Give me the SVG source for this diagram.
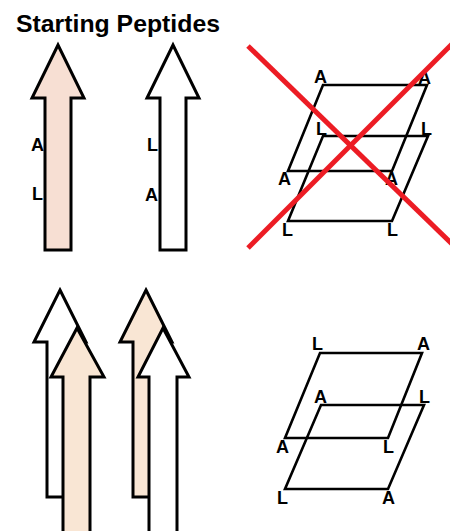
<svg xmlns="http://www.w3.org/2000/svg" width="450" height="531" viewBox="0 0 450 531">
<style>
.arrow{stroke:#000;stroke-width:3;stroke-linejoin:miter}
.pink{fill:#f7dfd3}
.peach{fill:#f9e6d4}
.white{fill:#fff}
.para{fill:none;stroke:#000;stroke-width:2.6;stroke-linejoin:miter}
.lbl{font-family:"Liberation Sans",Arial,sans-serif;font-weight:bold;font-size:18px;fill:#000}
.title{font-family:"Liberation Sans",Arial,sans-serif;font-weight:bold;font-size:24px;fill:#000}
.cross{stroke:#ec1c24;stroke-width:5;stroke-linecap:butt}
</style>
<rect width="450" height="531" fill="#fff"/>
<text class="title" x="16" y="32" textLength="204" lengthAdjust="spacingAndGlyphs">Starting Peptides</text>

<g id="arrow-top-pink">
<path class="arrow pink" d="M58,45 L84,98 L71,98 L71,250 L45,250 L45,98 L32,98 Z"/>
<text class="lbl" x="31" y="151">A</text>
<text class="lbl" x="32" y="200">L</text>
</g>
<g id="arrow-top-white">
<path class="arrow white" d="M173,45 L199,98 L186,98 L186,250 L160,250 L160,98 L147,98 Z"/>
<text class="lbl" x="147" y="151">L</text>
<text class="lbl" x="145" y="201">A</text>
</g>

<g id="sheet-top-crossed">
<path class="para" d="M323,85 L427,85 L392,171 L288,171 Z"/>
<path class="para" d="M323,136 L428,136 L392,221 L288,221 Z"/>
<text class="lbl" x="314" y="83">A</text>
<text class="lbl" x="418" y="84">A</text>
<text class="lbl" x="316" y="135">L</text>
<text class="lbl" x="421" y="135">L</text>
<text class="lbl" x="278" y="185">A</text>
<text class="lbl" x="385" y="185">A</text>
<text class="lbl" x="282" y="236">L</text>
<text class="lbl" x="387" y="236">L</text>
</g>
<g id="cross">
<line class="cross" x1="248" y1="46" x2="452" y2="244"/>
<line class="cross" x1="248" y1="248" x2="452" y2="44"/>
</g>

<g id="pair-left">
<path class="arrow white" d="M60,290 L86,342 L73,342 L73,497 L47,497 L47,342 L34,342 Z"/>
<path class="arrow peach" d="M77,328 L104,377 L90,377 L90,540 L63,540 L63,377 L51,377 Z"/>
</g>
<g id="pair-right">
<path class="arrow peach" d="M146,290 L172,342 L159,342 L159,497 L133,497 L133,342 L120,342 Z"/>
<path class="arrow white" d="M163,328 L189,377 L177,377 L177,540 L149,540 L149,377 L138,377 Z"/>
</g>

<g id="sheet-bottom">
<path class="para" d="M320,353 L422,353 L388,438 L285,438 Z"/>
<path class="para" d="M321,405 L424,405 L388,489 L285,489 Z"/>
<text class="lbl" x="312" y="350">L</text>
<text class="lbl" x="417" y="350">A</text>
<text class="lbl" x="314" y="403">A</text>
<text class="lbl" x="419" y="403">L</text>
<text class="lbl" x="276" y="453">A</text>
<text class="lbl" x="383" y="453">L</text>
<text class="lbl" x="277" y="504">L</text>
<text class="lbl" x="382" y="504">A</text>
</g>
</svg>
